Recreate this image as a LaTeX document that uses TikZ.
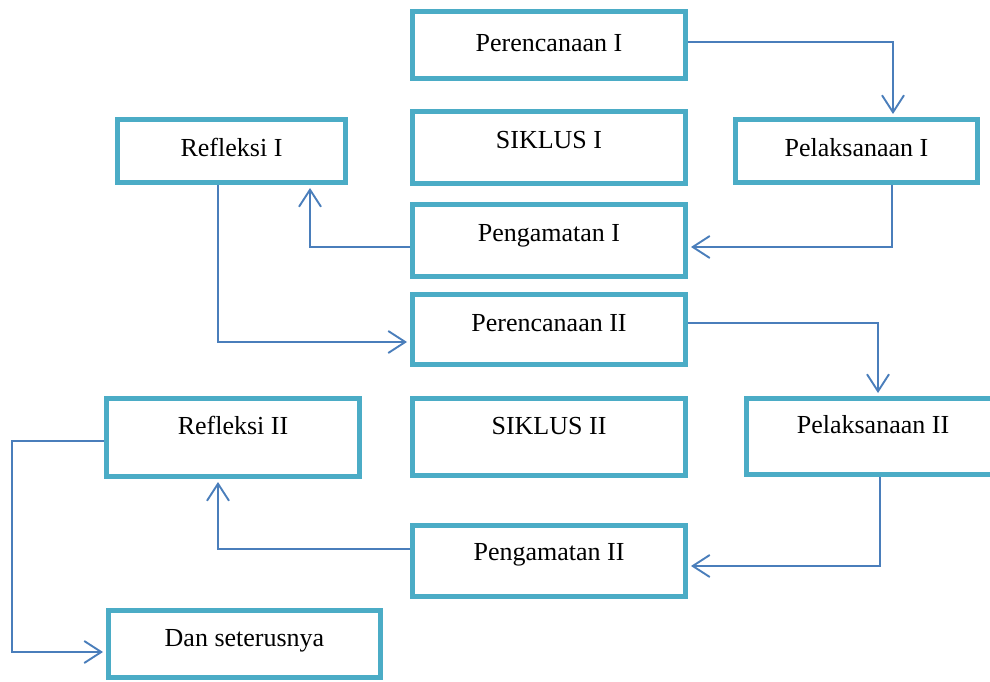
\documentclass[tikz,border=0pt]{standalone}
\usepackage{fontspec}
\setmainfont{Liberation Serif}
\usetikzlibrary{arrows.meta}
\definecolor{boxblue}{HTML}{4BACC6}
\definecolor{linkblue}{HTML}{4A7EBB}
\tikzset{
  stage/.style={draw=boxblue, line width=5pt, fill=white, rectangle, inner sep=0pt},
  captxt/.style={font=\fontsize{26}{30}\selectfont, inner sep=0pt, anchor=base},
  conn/.style={draw=linkblue, line width=1.9pt,
    -{Straight Barb[length=17pt,width=22pt,line width=1.9pt]}, shorten >=3pt},
}
\begin{document}
\begin{tikzpicture}[x=1pt, y=-1pt]
\useasboundingbox (0,0) rectangle (990,682);
\clip (0,0) rectangle (990,682);

% stage boxes (centre, inner size)
\node[stage, minimum width=273pt, minimum height=67pt] (p1)  at (549,45)    {};
\node[stage, minimum width=273pt, minimum height=71pt] (s1)  at (549,147.5) {};
\node[stage, minimum width=242pt, minimum height=63pt] (pl1) at (856.5,151) {};
\node[stage, minimum width=228pt, minimum height=63pt] (r1)  at (231.5,151) {};
\node[stage, minimum width=273pt, minimum height=72pt] (pg1) at (549,240)   {};
\node[stage, minimum width=273pt, minimum height=70pt] (pr2) at (549,329.5) {};
\node[stage, minimum width=253pt, minimum height=78pt] (r2)  at (233,437.5) {};
\node[stage, minimum width=273pt, minimum height=77pt] (s2)  at (549,437)   {};
\node[stage, minimum width=253pt, minimum height=76pt] (pl2) at (873,436.5) {};
\node[stage, minimum width=273pt, minimum height=71pt] (pg2) at (549,561)   {};
\node[stage, minimum width=272pt, minimum height=67pt] (d)   at (244.5,644) {};

% captions
\node[captxt] (p1t)  at (549,52)  {Perencanaan I};
\node[captxt] (s1t)  at (549,149) {SIKLUS I};
\node[captxt] (pl1t) at (856.5,156) {Pelaksanaan I};
\node[captxt] (r1t)  at (231.5,156) {Refleksi I};
\node[captxt] (pg1t) at (549,241) {Pengamatan I};
\node[captxt] (pr2t) at (549,331) {Perencanaan II};
\node[captxt] (r2t)  at (233,434) {Refleksi II};
\node[captxt] (s2t)  at (549,434) {SIKLUS II};
\node[captxt] (pl2t) at (873,433) {Pelaksanaan II};
\node[captxt] (pg2t) at (549,560) {Pengamatan II};
\node[captxt] (dt)   at (244.5,646) {Dan seterusnya};

% routing points of the connectors
\coordinate (c1) at (893,42);
\coordinate (c2) at (892,247);
\coordinate (c3) at (310,247);
\coordinate (c4) at (218,342);
\coordinate (c5) at (878,323);
\coordinate (c6) at (880,566);
\coordinate (c7) at (218,549);
\coordinate (c8) at (12,441);
\coordinate (c9) at (12,652);

% connectors
\draw[conn] (p1.east |- c1) -| (pl1.north -| c1);
\draw[conn] (pl1.south -| c2) |- (pg1.east |- c2);
\draw[conn] (pg1.west |- c3) -| (r1.south -| c3);
\draw[conn] (r1.south -| c4) |- (pr2.west |- c4);
\draw[conn] (pr2.east |- c5) -| (pl2.north -| c5);
\draw[conn] (pl2.south -| c6) |- (pg2.east |- c6);
\draw[conn] (pg2.west |- c7) -| (r2.south -| c7);
\draw[conn] (r2.west |- c8) -- (c8) |- (d.west |- c9);
\end{tikzpicture}
\end{document}
